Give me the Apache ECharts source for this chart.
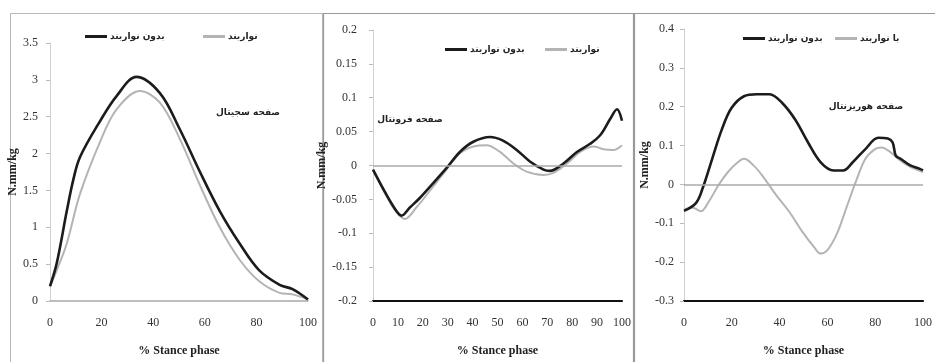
<!DOCTYPE html>
<html>
<head>
<meta charset="utf-8">
<script src="https://cdn.jsdelivr.net/npm/echarts@6/dist/echarts.min.js"></script>
<style>html,body{margin:0;padding:0;background:#fff;}#c{width:935px;height:362px;}</style>
</head>
<body>
<div id="c"></div>
<script>
// ---- Data ----
const nameNo = 'بدون نواربند';
const nameWith = 'نواربند';
const nameWith3 = 'با نواربند';
const planeLabels = ['صفحه سجیتال', 'صفحه فرونتال', 'صفحه هوریزنتال'];
const xTitle = '% Stance phase';
const yTitle = 'N.mm/kg';

// Panel 1 (sagittal)
const p1BlackX = [0, 2.6, 6.5, 9, 11.6, 19.4, 25.8, 33.5, 42.6, 50.3, 58, 65.8, 73.5, 81, 89, 94, 100];
const p1BlackY = [0.2, 0.51, 1.22, 1.64, 1.95, 2.44, 2.78, 3.04, 2.82, 2.33, 1.76, 1.22, 0.78, 0.42, 0.22, 0.16, 0.02];
const p1GrayX = [0, 3, 6.5, 11.6, 19.4, 25.8, 34.8, 42.6, 50.3, 58, 65.8, 73.5, 81, 89, 94, 100];
const p1GrayY = [0.2, 0.45, 0.78, 1.45, 2.16, 2.6, 2.85, 2.69, 2.2, 1.58, 1.0, 0.56, 0.27, 0.11, 0.09, 0.02];

// Panel 2 (frontal)
const p2BlackX = [0, 5.4, 9.4, 11.4, 14.8, 18.8, 24.2, 29.5, 34.9, 40.3, 47, 52, 57.7, 63, 68.5, 71, 76.5, 81.9, 87.2, 91.3, 95.3, 98, 100];
const p2BlackY = [-0.006, -0.043, -0.067, -0.074, -0.062, -0.048, -0.026, -0.004, 0.02, 0.035, 0.042, 0.037, 0.023, 0.006, -0.006, -0.008, 0.003, 0.02, 0.032, 0.045, 0.069, 0.083, 0.066];
const p2GrayX = [0, 5.4, 9.4, 12.8, 17.4, 24.2, 29.5, 34.9, 40.3, 45.6, 51, 56.4, 61.7, 68.5, 72.5, 77.9, 83.2, 88.6, 92.6, 96.6, 100];
const p2GrayY = [-0.006, -0.045, -0.069, -0.079, -0.062, -0.031, -0.006, 0.018, 0.028, 0.03, 0.02, 0.003, -0.009, -0.014, -0.011, 0.003, 0.02, 0.028, 0.024, 0.023, 0.03];

// Panel 3 (transverse)
const p3BlackX = [0, 5, 7.8, 11.8, 15.8, 19.8, 25.1, 30.5, 35.8, 41.2, 46.5, 51.9, 57.2, 62.6, 66.6, 70.6, 75.9, 81.3, 85.3, 87.3, 88.6, 90.6, 94.7, 98.7, 100];
const p3BlackY = [-0.068, -0.048, -0.01, 0.066, 0.141, 0.196, 0.227, 0.232, 0.232, 0.209, 0.167, 0.108, 0.057, 0.036, 0.036, 0.057, 0.091, 0.12, 0.118, 0.108, 0.074, 0.066, 0.049, 0.04, 0.036];
const p3GrayX = [0, 3.7, 7, 10.4, 14.4, 18.4, 22.5, 25.1, 29.1, 33.2, 38.5, 43.9, 49.2, 54.5, 57.2, 59.9, 63.9, 67.9, 71.9, 75.9, 79.9, 82.6, 86.6, 90.6, 94.7, 100];
const p3GrayY = [-0.065, -0.06, -0.069, -0.044, -0.002, 0.032, 0.057, 0.066, 0.049, 0.019, -0.027, -0.069, -0.119, -0.162, -0.178, -0.17, -0.128, -0.061, 0.007, 0.066, 0.091, 0.095, 0.082, 0.061, 0.045, 0.032];

// Axis scales
const yMin = [0, -0.2, -0.3], yMax = [3.5, 0.2, 0.4], yStep = [0.5, 0.05, 0.1];
const xStep = [20, 10, 20];

// ---- Build ----
const zip = (xs, ys) => xs.map((x, i) => [x, ys[i]]);
const NUM = 'Liberation Serif';
const FA = 'DejaVu Sans';
const BLACK = '#1c1c1c', GRAY = '#b4b4b4';

const grids = [
  {left: 50, top: 43, width: 258, height: 262},
  {left: 373, top: 30, width: 249, height: 275},
  {left: 684, top: 29, width: 249, height: 278}
];
const yLabelMargin = [12, 16, 10];
const yNameGap = [26, 39, 33];

const xAxes = grids.map((g, i) => ({
  type: 'value', gridIndex: i, min: 0, max: 100, interval: xStep[i],
  axisLine: {show: true, onZero: false, lineStyle: {color: i === 0 ? '#a8a8a8' : '#111', width: i === 0 ? 1.5 : 2.2}},
  axisTick: {show: false}, splitLine: {show: false},
  axisLabel: {margin: 16, color: '#333', fontFamily: NUM, fontSize: 12},
  name: xTitle, nameLocation: 'middle', nameGap: 44,
  nameTextStyle: {color: '#222', fontFamily: NUM, fontSize: 12, fontWeight: 'bold'}
}));
const yAxes = grids.map((g, i) => ({
  type: 'value', gridIndex: i, min: yMin[i], max: yMax[i], interval: yStep[i],
  axisLine: {show: true, onZero: false, lineStyle: {color: '#d0d0d0', width: 1}},
  axisTick: {show: true, length: 4, lineStyle: {color: '#bbb'}},
  splitLine: {show: false},
  axisLabel: {margin: yLabelMargin[i], color: '#333', fontFamily: NUM, fontSize: 12},
  name: yTitle, nameLocation: 'middle', nameRotate: 90, nameGap: yNameGap[i],
  nameTextStyle: {color: '#222', fontFamily: NUM, fontSize: 12, fontWeight: 'bold'}
}));

function lineSeries(name, data, idx, color, width, extra) {
  return Object.assign({
    type: 'line', name: name, xAxisIndex: idx, yAxisIndex: idx, data: data,
    smooth: 0.35, symbol: 'none', lineStyle: {color: color, width: width},
    itemStyle: {color: color}, silent: true
  }, extra || {});
}
const zeroLine = {
  silent: true, symbol: 'none', label: {show: false},
  lineStyle: {color: '#aaa', width: 1.5, type: 'solid'}, data: [{yAxis: 0}]
};

const series = [
  lineSeries(nameWith, zip(p1GrayX, p1GrayY), 0, GRAY, 2),
  lineSeries(nameNo, zip(p1BlackX, p1BlackY), 0, BLACK, 2.6),
  lineSeries(nameWith, zip(p2GrayX, p2GrayY), 1, GRAY, 2, {markLine: zeroLine}),
  lineSeries(nameNo, zip(p2BlackX, p2BlackY), 1, BLACK, 2.6),
  lineSeries(nameWith3, zip(p3GrayX, p3GrayY), 2, GRAY, 2, {markLine: zeroLine}),
  lineSeries(nameNo, zip(p3BlackX, p3BlackY), 2, BLACK, 2.6)
];

function leg(name, left, top) {
  return {
    data: [name], left: left, top: top, icon: 'rect', itemWidth: 22, itemHeight: 3,
    itemGap: 4, selectedMode: false,
    textStyle: {fontFamily: FA, fontSize: 9, fontWeight: 'bold', color: '#222', padding: [0, 0, 0, -2]}
  };
}
const legends = [
  leg(nameNo, 80, 27), leg(nameWith, 198, 27),
  leg(nameNo, 440, 40), leg(nameWith, 540, 40),
  leg(nameNo, 738, 29), leg(nameWith3, 830, 29)
];

const borderStyle = {stroke: '#b8b8b8', fill: 'none', lineWidth: 1};
const graphic = [
  {type: 'rect', shape: {x: 10.5, y: 13.5, width: 312, height: 360}, style: borderStyle, silent: true},
  {type: 'rect', shape: {x: 323.5, y: 13.5, width: 310, height: 360}, style: {stroke: '#999', fill: 'none', lineWidth: 1.2}, silent: true},
  {type: 'rect', shape: {x: 634.5, y: 13.5, width: 310, height: 360}, style: {stroke: '#999', fill: 'none', lineWidth: 1.2}, silent: true},
  {type: 'text', x: 248, y: 113, style: {text: planeLabels[0], font: 'bold 9px "DejaVu Sans"', fill: '#222', textAlign: 'center', textVerticalAlign: 'middle'}},
  {type: 'text', x: 410, y: 120, style: {text: planeLabels[1], font: 'bold 9px "DejaVu Sans"', fill: '#222', textAlign: 'center', textVerticalAlign: 'middle'}},
  {type: 'text', x: 866, y: 107, style: {text: planeLabels[2], font: 'bold 9px "DejaVu Sans"', fill: '#222', textAlign: 'center', textVerticalAlign: 'middle'}}
];

const chart = echarts.init(document.getElementById('c'), null, {renderer: 'canvas'});
chart.setOption({
  backgroundColor: '#fff',
  animation: false,
  grid: grids,
  xAxis: xAxes,
  yAxis: yAxes,
  legend: legends,
  series: series,
  graphic: graphic
});
</script>
</body>
</html>
